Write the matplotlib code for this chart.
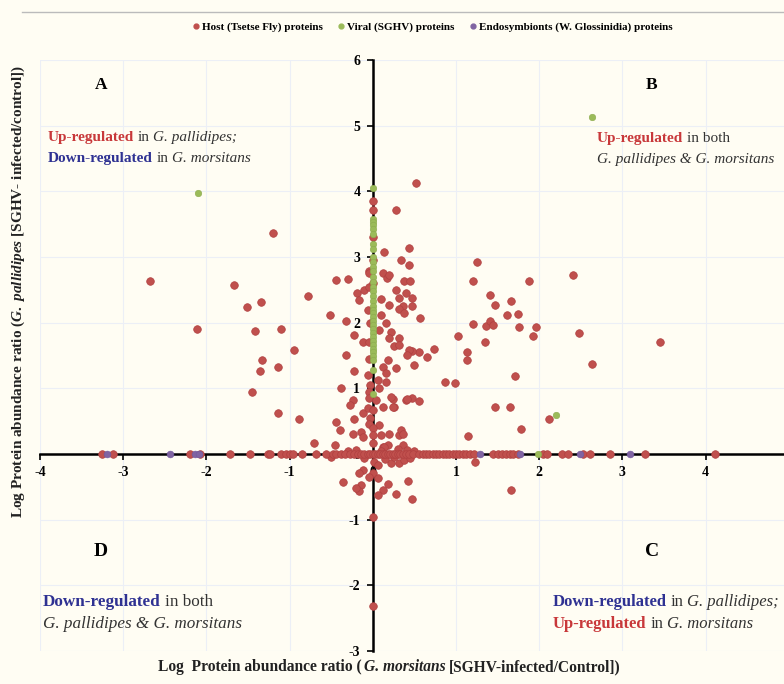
import numpy as np
import matplotlib
matplotlib.use("Agg")
import matplotlib.pyplot as plt
from matplotlib.lines import Line2D

plt.rcParams['font.family'] = ['Liberation Serif', 'DejaVu Serif']
plt.rcParams['mathtext.fontset'] = 'custom'
plt.rcParams['mathtext.rm'] = 'Liberation Serif:bold'
plt.rcParams['mathtext.it'] = 'Liberation Serif:italic:bold'
plt.rcParams['axes.unicode_minus'] = False

# host proteins off the axes (x = G. morsitans, y = G. pallidipes)
host_x = [-2.68, -2.11, -1.67, -1.51, -1.34, -0.78, -1.41, -1.10, -0.95, -1.33,
          -1.36, -1.14, -1.45, -1.14, -0.89, -0.71, -1.20, -0.52, -0.44, -0.30,
          -0.04, -0.19, -0.10, -0.16, -0.32, -0.23, -0.12, -0.32, -0.22, -0.38,
          -0.24, -0.28, -0.12, -0.22, -0.44, -0.39, -0.24, -0.14, -0.12, -0.46,
          -0.05, -0.04, -0.06, -0.03, -0.05, -0.04, -0.06, -0.03, -0.05, -0.04,
          -0.06, -0.03, -0.05, 0.00, 0.00, 0.00, 0.00, 0.00,
          0.52, 0.28, 0.14, 0.44, 0.34, 0.44, 1.25, 1.21, 1.88, 2.41,
          1.41, 1.47, 1.66, 1.61, 1.75, 1.21, 1.36, 1.41, 1.45, 1.76,
          1.96, 1.92, 2.48, 3.45, 2.64, 1.02, 1.35, 1.13, 1.13, 0.73,
          0.65, 0.50, 0.56, 0.47, 0.57, 0.87, 0.99, 1.71, 1.47, 1.65,
          1.78, 1.15, 2.12, 0.40, 0.47, 0.56, 0.24, 0.26, 0.12, 0.17,
          0.20, 0.38, 0.45, 0.28, 0.40, 0.32, 0.47, 0.10, 0.20, 0.36,
          0.32, 0.47, 0.38, 0.10, 0.16, 0.08, 0.22, 0.20, 0.32, 0.26,
          0.32, 0.44, 0.41, 0.18, 0.12, 0.16, 0.28, 0.06, 0.16, 0.08,
          0.22, 0.04, 0.12, 0.24, 0.41, 0.00, 0.08, 0.10, 0.20, 0.32,
          0.34, 0.36, 0.12, 0.18, 0.36, 0.41, 0.00, 0.00, 0.00, 0.14,
          0.02, 0.06, 0.32, 0.38, 0.22, -0.12, -0.16, 0.00, 0.06, -0.04,
          -0.36, -0.14, -0.16, -0.20, 0.18, 0.12, 0.06, 0.28, 0.42, 0.47,
          0.00, 0.00, 1.23, 1.66,
          -0.30, -0.10, 0.10, 0.25, 0.45, 0.50, -0.50, 0.30, -0.20, 0.15]
host_y = [2.64, 1.90, 2.57, 2.24, 2.31, 2.40, 1.88, 1.90, 1.59, 1.43,
          1.26, 1.33, 0.94, 0.63, 0.54, 0.16, 3.37, 2.12, 2.65, 2.66,
          2.79, 2.45, 2.50, 2.35, 2.03, 1.81, 1.71, 1.51, 1.27, 1.00,
          0.82, 0.75, 0.62, 0.54, 0.49, 0.37, 0.31, 0.34, 0.26, 0.14,
          2.75, 2.55, 2.20, 2.00, 1.70, 1.45, 1.20, 1.05, 0.95, 0.85,
          0.70, 0.55, 0.45, 3.85, 3.72, 3.30, 2.95, 2.60,
          4.13, 3.72, 3.08, 3.13, 2.96, 2.88, 2.92, 2.64, 2.64, 2.73,
          2.42, 2.27, 2.33, 2.12, 2.13, 1.98, 1.95, 2.03, 1.97, 1.94,
          1.94, 1.79, 1.85, 1.70, 1.37, 1.80, 1.71, 1.56, 1.43, 1.60,
          1.47, 1.36, 1.56, 1.57, 2.07, 1.10, 1.08, 1.19, 0.72, 0.71,
          0.38, 0.27, 0.53, 0.82, 0.86, 0.81, 0.83, 0.71, 2.75, 2.68,
          2.73, 2.63, 2.63, 2.50, 2.45, 2.37, 2.37, 2.36, 2.27, 2.25,
          2.21, 2.25, 2.15, 2.12, 2.00, 1.89, 1.86, 1.76, 1.76, 1.64,
          1.66, 1.59, 1.51, 1.43, 1.33, 1.23, 1.31, 1.13, 1.10, 1.00,
          0.87, 0.82, 0.72, 0.72, 0.83, 0.67, 0.44, 0.29, 0.31, 0.29,
          0.37, 0.31, 0.11, 0.14, 0.14, 0.06, 0.39, 0.29, 0.16, 0.10,
          -0.12, -0.17, -0.14, -0.09, -0.14, -0.24, -0.29, -0.29, -0.37, -0.35,
          -0.42, -0.47, -0.57, -0.52, -0.45, -0.55, -0.62, -0.61, -0.41, -0.69,
          -0.96, -2.32, -0.12, -0.55,
          0.05, -0.06, 0.05, -0.05, -0.06, 0.04, -0.05, 0.08, 0.06, -0.07]

# host proteins lying on the horizontal axis (y = 0)
host_axis_x = [-3.26, -3.12, -2.20, -2.08, -1.72, -1.48, -1.26, -1.24, -1.10, -1.04,
               -1.00, -0.96, -0.85, -0.68, -0.56, -0.48, -0.44, -0.38, -0.33, -0.28,
               -0.22, -0.18, -0.14, -0.10, -0.06, -0.03, 0.00, 0.03, 0.06, 0.09,
               0.12, 0.15, 0.18, 0.21, 0.24, 0.27, 0.30, 0.33, 0.36, 0.40,
               0.44, 0.48, 0.56, 0.60, 0.64, 0.68, 0.72, 0.76, 0.80, 0.84,
               0.88, 0.92, 0.96, 1.00, 1.04, 1.08, 1.12, 1.17, 1.22, 1.45,
               1.50, 1.55, 1.60, 1.65, 1.69, 1.74, 2.05, 2.09, 2.27, 2.35,
               2.53, 2.61, 2.85, 3.27, 4.11]

# viral proteins: column on the vertical axis (x = 0) plus a few others
viral_axis_y = [4.05, 3.58, 3.53, 3.48, 3.42, 3.35, 3.20, 3.12, 3.00, 2.92,
                2.85, 2.78, 2.70, 2.62, 2.55, 2.48, 2.40, 2.33, 2.26, 2.20,
                2.14, 2.08, 2.02, 1.96, 1.90, 1.84, 1.78, 1.72, 1.66, 1.60,
                1.55, 1.49, 1.43, 1.28, 0.92]
viral_x = [-2.10, 2.63, 2.20, 1.99]
viral_y = [3.98, 5.13, 0.59, 0.00]

# endosymbiont proteins (all on y = 0)
endo_x = [-3.19, -2.44, -2.14, -2.09, 1.29, 1.77, 2.49, 3.09]

RED = '#C0504D'
GREEN = '#9BBB59'
PURPLE = '#8064A2'
TXT_RED = '#C8383A'
TXT_BLUE = '#2E3192'
TXT_GRAY = '#333333'
BG = '#FFFDF3'

W, H = 784, 684
fig = plt.figure(figsize=(W / 100, H / 100), dpi=100, facecolor=BG)
ax = fig.add_axes([40 / W, 33 / H, 9 * 83.2 / W, 591 / H], facecolor=BG)

ax.scatter(host_x, host_y, s=30, color=RED, edgecolors='#B04040', linewidths=0.5, zorder=3)
ax.scatter(host_axis_x, np.zeros(len(host_axis_x)), s=30, color=RED,
           edgecolors='#B04040', linewidths=0.5, zorder=3)
ax.scatter(np.zeros(len(viral_axis_y)), viral_axis_y, s=22, color=GREEN,
           edgecolors='#8BAA4C', linewidths=0.4, zorder=4)
ax.scatter(viral_x, viral_y, s=22, color=GREEN, edgecolors='#8BAA4C', linewidths=0.4, zorder=4)
ax.scatter(endo_x, np.zeros(len(endo_x)), s=24, color=PURPLE, edgecolors='#7058A0',
           linewidths=0.4, zorder=4)

ax.set_xlim(-4, 5)
ax.set_ylim(-3, 6)
ax.set_xticks(range(-4, 5))
ax.set_yticks(range(-3, 7))
ax.grid(True, color='#ECEFF6', linewidth=0.8, zorder=0)
ax.set_axisbelow(True)

ax.spines['left'].set_position(('data', 0))
ax.spines['bottom'].set_position(('data', 0))
ax.spines['right'].set_visible(False)
ax.spines['top'].set_visible(False)
ax.spines['left'].set_linewidth(1.8)
ax.spines['bottom'].set_linewidth(1.8)
ax.spines['left'].set_zorder(2.5)
ax.spines['bottom'].set_zorder(2.5)
ax.tick_params(axis='both', length=4, width=1.2, labelsize=10, colors='black', pad=5)
for lbl in ax.get_xticklabels() + ax.get_yticklabels():
    lbl.set_fontweight('bold')

fig.text(18 / W, 1 - 292 / H,
         r"Log Protein abundance ratio ($\mathit{G.\ pallidipes}$ [SGHV- infected/control])",
         rotation=90, ha='center', va='center', fontsize=11, fontweight='bold',
         color='#222222')

# top rule and legend
fig.add_artist(Line2D([22 / W, 1], [1 - 12 / H, 1 - 12 / H], color='#BBBBBB', linewidth=1))
handles = [Line2D([], [], marker='o', linestyle='', color=c, markersize=3.5)
           for c in (RED, GREEN, PURPLE)]
fig.legend(handles, ['Host (Tsetse Fly) proteins', 'Viral (SGHV) proteins',
                     'Endosymbionts (W. Glossinidia) proteins'],
           loc='center', bbox_to_anchor=(432 / W, 1 - 27 / H), ncol=3, frameon=False,
           prop={'weight': 'bold', 'size': 8}, handletextpad=0.2, columnspacing=1.2,
           handlelength=0.8)

renderer = fig.canvas.get_renderer()


def rich_text(px, py, parts, size=11, gap_em=0.22):
    x = px / W
    y = 1 - py / H
    gap = size * gap_em * 100 / 72 / W
    for s, color, weight, style in parts:
        t = fig.text(x, y, s, color=color, fontweight=weight, fontstyle=style,
                     fontsize=size, va='baseline', ha='left')
        x += t.get_window_extent(renderer).width / W + gap


up = ('Up-regulated', TXT_RED, 'bold', 'normal')
down = ('Down-regulated', TXT_BLUE, 'bold', 'normal')
word_in = ('in', TXT_GRAY, 'normal', 'normal')
both = ('in both', TXT_GRAY, 'normal', 'normal')
pal_sc = ('G. pallidipes;', TXT_GRAY, 'normal', 'italic')
mor = ('G. morsitans', TXT_GRAY, 'normal', 'italic')
pal_mor = ('G. pallidipes & G. morsitans', TXT_GRAY, 'normal', 'italic')

rich_text(48, 141, [up, word_in, pal_sc])
rich_text(48, 162, [down, word_in, mor])
rich_text(597, 142, [up, both])
rich_text(597, 163, [pal_mor])
rich_text(43, 606, [down, both], size=12.3)
rich_text(43, 628, [pal_mor], size=12.3)
rich_text(553, 606, [down, word_in, pal_sc], size=12)
rich_text(553, 628, [up, word_in, mor], size=12)

# x-axis title
rich_text(158, 671, [('Log  Protein abundance ratio (', '#222222', 'bold', 'normal'),
                     ('G. morsitans', '#222222', 'bold', 'italic'),
                     ('[SGHV-infected/Control])', '#222222', 'bold', 'normal')],
          size=11.2, gap_em=0.18)

for letter, px, py, fs in [('A', 101, 85, 12.5), ('B', 652, 85, 12.5),
                           ('D', 101, 551, 14), ('C', 652, 551, 14)]:
    fig.text(px / W, 1 - py / H, letter, fontsize=fs, fontweight='bold',
             ha='center', va='center', color='black')

fig.savefig('out.png', dpi=100, facecolor=BG)
